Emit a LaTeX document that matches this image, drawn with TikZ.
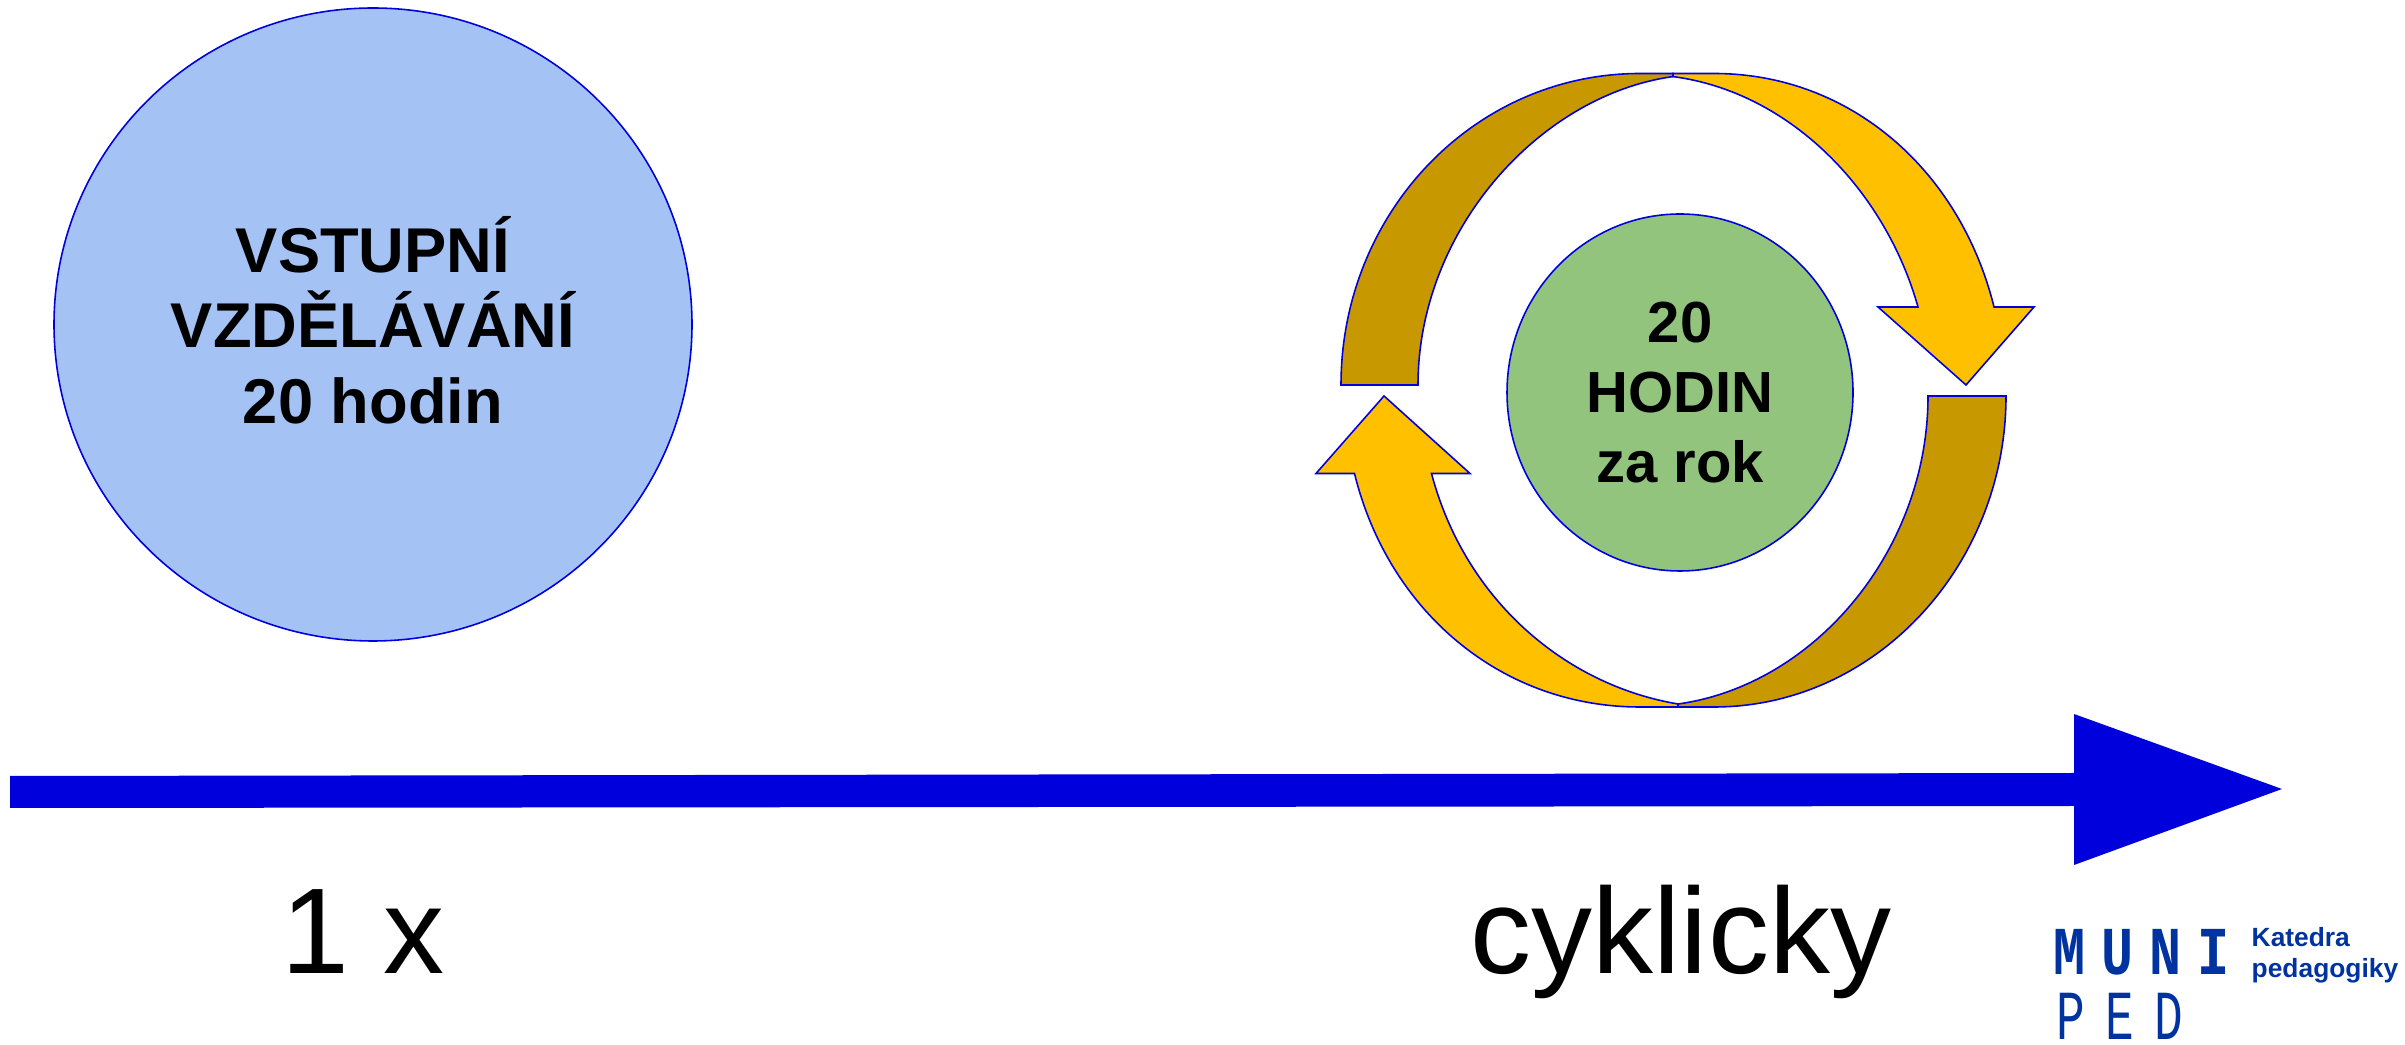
\documentclass[tikz,border=0pt]{standalone}
\usepackage{fontspec}
\setmainfont{Liberation Sans}
\newfontfamily\munibold[FakeStretch=0.78,LetterSpace=23]{Liberation Mono Bold}
\newfontfamily\munilight[FakeStretch=0.68,LetterSpace=29]{Liberation Mono}
\usetikzlibrary{shapes.geometric}
\definecolor{lineblue}{RGB}{0,0,220}
\definecolor{circleblue}{RGB}{164,194,244}
\definecolor{circlegreen}{RGB}{147,196,125}
\definecolor{loopgold}{RGB}{255,192,0}
\definecolor{loopbrown}{RGB}{200,152,0}
\definecolor{muniblue}{RGB}{0,51,160}
\begin{document}
\begin{tikzpicture}[
		x=0.1mm,
		y=-0.1mm,
		font=\bfseries
	]
	\tikzset{
		mycircle/.style = {ellipse, draw=lineblue, line width=0.45pt, inner sep=0pt, align=center},
		loopgold/.style = {draw=lineblue, line width=0.45pt, fill=loopgold, line join=miter},
		loopbrown/.style = {draw=lineblue, line width=0.45pt, fill=loopbrown, line join=miter},
		timeline/.style = {fill=lineblue},
		bigtext/.style = {font=\fontsize{34.7}{40}\selectfont\mdseries, anchor=base},
		logotext/.style = {text=muniblue, anchor=base west, inner sep=0pt},
	}
	\useasboundingbox (0,0) rectangle (2405,1045);
	%
	\node[mycircle, fill=circleblue, minimum width=63.8mm, minimum height=63.3mm,
		font=\fontsize{18}{21.5}\selectfont\bfseries] at (373,324.5) (vstupni)
		{VSTUPNÍ\\VZDĚLÁVÁNÍ\\20 hodin\rule[-2.6pt]{0pt}{0pt}};
	\node[mycircle, fill=circlegreen, minimum width=34.6mm, minimum height=35.7mm,
		font=\fontsize{16.5}{20}\selectfont\bfseries] at (1680,392.5) (hodin)
		{20\\HODIN\\za rok};
	%
	\draw[loopbrown] (1341,385) .. controls (1341,213) and (1474,73.5) .. (1640,73.5)
		-- (1673,73.5) -- (1673,76.6)
		.. controls (1540,95) and (1418,230) .. (1418,385) -- cycle;
	\draw[loopgold] (1673,73.5) -- (1714,73.5)
		.. controls (1850,73.5) and (1960,170) .. (1994,307)
		-- (2034,307) -- (1966,385) -- (1878,307) -- (1918,307)
		.. controls (1885,190) and (1790,92) .. (1673,76.6) -- cycle;
	%
	\draw[loopbrown] (2006,396) .. controls (2006,566) and (1875,707) .. (1714,707)
		-- (1678,707) -- (1678,704)
		.. controls (1815,685) and (1928,550) .. (1928,396) -- cycle;
	\draw[loopgold] (1678,707) -- (1640,707)
		.. controls (1500,707) and (1388,610) .. (1354.5,473.5)
		-- (1316,473.5) -- (1384,396) -- (1470,473.5) -- (1431.5,473.5)
		.. controls (1465,600) and (1565,685) .. (1678,704) -- cycle;
	%
	\fill[timeline] (10,776) -- (2074,773) -- (2074,714) -- (2282,789)
		-- (2074,865) -- (2074,806) -- (10,808) -- cycle;
	%
	\node[bigtext] at (363,974) (once) {1 x};
	\node[bigtext] at (1681,974) (cyclic) {cyklicky};
	%
	\node[logotext, font=\fontsize{19.5}{19.5}\munibold\bfseries] at (2053,975) (muni) {MUNI};
	\node[logotext, font=\fontsize{20}{20}\munilight\mdseries] at (2056,1040) (ped) {PED};
	\node[logotext, font=\fontsize{7.5}{7.5}\selectfont\bfseries] at (2251,947) (katedra) {Katedra};
	\node[logotext, font=\fontsize{7.5}{7.5}\selectfont\bfseries] at (2251,978) (pedagogiky) {pedagogiky};
\end{tikzpicture}
\end{document}
